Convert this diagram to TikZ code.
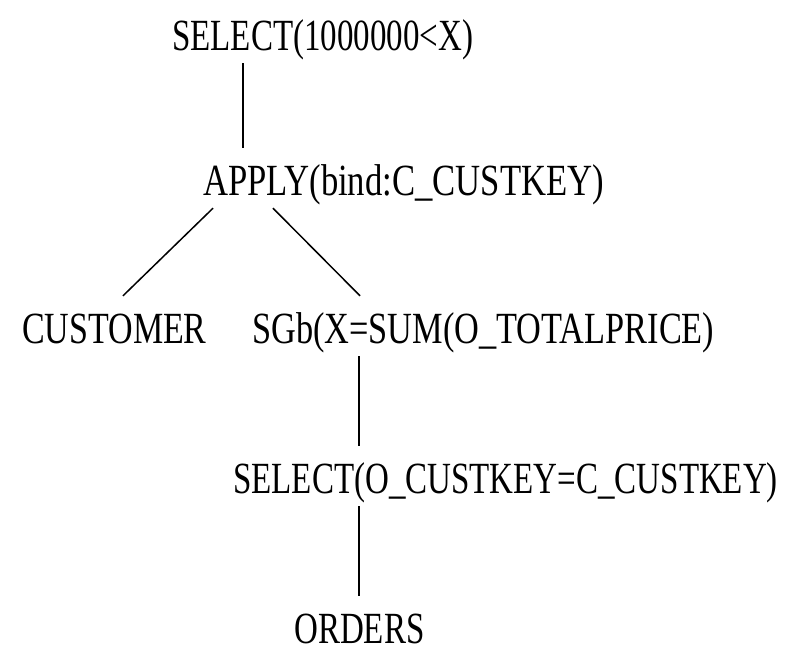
\documentclass[tikz,border=0pt]{standalone}
\usepackage{graphicx}
\usepackage{fontspec}
\setmainfont{Liberation Serif}
\newcommand{\tallop}[2][1]{\scalebox{#1}[1.35]{#2}}
\begin{document}
\begin{tikzpicture}[x=1pt, y=-1pt,
  opnode/.style={anchor=base west, inner xsep=0pt, inner ysep=10pt,
    text height=37pt, text depth=3pt,
    font=\fontsize{33}{40}\selectfont},
  conn/.style={line width=1.5pt}
]
  \useasboundingbox (0,0) rectangle (802,656);

  % Operators
  \node[opnode] (selx) at (172,50) {\tallop{SELECT(1000000<X)}};
  \node[opnode] (apply) at (203,195) {\tallop[1.05]{APPLY(bind:C\_CUSTKEY)}};
  \node[opnode] (cust) at (22,343) {\tallop[1.03]{CUSTOMER}};
  \node[opnode] (sgb) at (252,343) {\tallop[1.04]{SGb(X=SUM(O\_TOTALPRICE)}};
  \node[opnode] (selkey) at (233,493) {\tallop{SELECT(O\_CUSTKEY=C\_CUSTKEY)}};
  \node[opnode] (orders) at (294,643) {\tallop{ORDERS}};

  % Connectors
  \draw[conn] ([xshift=71pt]selx.south west) -- ([xshift=40pt]apply.north west);
  \draw[conn] ([xshift=10pt]apply.south west) -- ([xshift=101pt]cust.north west);
  \draw[conn] ([xshift=70pt]apply.south west) -- ([xshift=108pt]sgb.north west);
  \draw[conn] ([xshift=107pt]sgb.south west) -- ([xshift=126pt]selkey.north west);
  \draw[conn] ([xshift=126pt]selkey.south west) -- ([xshift=65pt]orders.north west);
\end{tikzpicture}
\end{document}
